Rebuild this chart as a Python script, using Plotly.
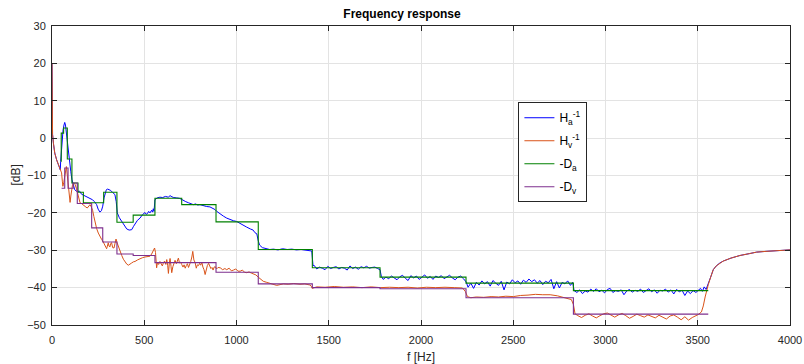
import plotly.graph_objects as go

# ---------------- data ----------------
# common low-frequency decay (all responses start here)
start_f = [0, 1, 3, 8, 15, 25, 35, 45]
start_db = [20.0, 8.0, 1.0, -1.5, -4.0, -5.8, -7.2, -8.5]

# common high-frequency tail
tail_f = [3570, 3584, 3600, 3620, 3638, 3680, 3729, 3780, 3819, 3870, 3920, 3960, 4000]
tail_db = [-37.2, -35.2, -34.2, -33.4, -32.9, -32.1, -31.4, -30.9, -30.5, -30.3, -30.1, -30.0, -29.9]

# H_a^-1 (blue)
ha_f = [47, 52, 55, 60, 65, 69, 73, 78, 83, 90, 96, 102, 108, 115, 123, 135, 150, 160, 175, 190,
        206, 220, 230, 242, 250, 260, 268, 275, 282, 287, 294, 300, 309, 318, 330, 341, 348, 354,
        365, 378, 390, 405, 418, 432, 442, 450, 463, 477, 490, 504, 511, 517, 524, 531, 540, 545,
        549, 553, 558, 570, 585, 600, 615, 630, 640, 650, 660, 676, 690, 703, 712, 725, 740, 755,
        766, 778, 790, 802, 820, 838, 856, 875, 883, 893, 910, 930, 947, 965, 983, 1001, 1020, 1038,
        1055, 1075, 1090, 1100, 1110, 1118, 1125, 1140, 1160, 1180, 1200, 1225, 1250, 1275, 1300,
        1325, 1350, 1375, 1395, 1408,
        1415, 1420, 1435, 1450, 1465, 1480, 1495, 1510, 1525, 1540, 1555, 1570, 1585, 1600, 1615,
        1630, 1645, 1660, 1675, 1690, 1705, 1720, 1735, 1750, 1765, 1778,
        1785, 1795, 1810, 1825, 1840, 1855, 1870, 1885, 1900, 1915, 1930, 1945, 1960, 1975, 1990,
        2005, 2020, 2035, 2050, 2065, 2080, 2095, 2110, 2125, 2140, 2155, 2170, 2185, 2200, 2215,
        2230, 2245, 2255, 2270, 2285, 2300, 2315, 2330, 2345, 2360, 2375, 2390, 2405, 2420, 2435,
        2450, 2465, 2480, 2495, 2510, 2525, 2540, 2555, 2570, 2585, 2600, 2615, 2630, 2645, 2660,
        2675, 2690, 2705, 2720, 2735, 2750, 2765, 2780, 2795, 2810, 2822, 2830, 2845, 2860, 2875,
        2890, 2905, 2920, 2935, 2950, 2965, 2980, 2995, 3010, 3025, 3040, 3055, 3070, 3085, 3100,
        3115, 3130, 3145, 3160, 3175, 3190, 3205, 3220, 3235, 3250, 3265, 3280, 3295, 3310, 3325,
        3340, 3355, 3370, 3385, 3400, 3415, 3430, 3445, 3460, 3475, 3490, 3505, 3515, 3525, 3535,
        3545, 3555]
ha_db = [-6.2, -2.5, -1.0, 2.2, 3.5, 4.2, 3.5, 1.0, -1.3, -4.0, -6.7, -9.0, -11.1, -12.5, -13.8,
         -14.3, -14.2, -15.0, -15.4, -15.9, -16.3, -16.5, -17.0, -17.8, -19.0, -19.8, -19.4, -18.2,
         -16.0, -14.7, -13.9, -13.6, -13.8, -14.0, -14.6, -15.1, -17.0, -20.0, -21.3, -22.3, -23.5,
         -24.3, -24.6, -24.5, -23.6, -22.9, -22.0, -21.4, -20.5, -19.9, -20.4, -20.2, -19.6, -20.0,
         -19.3, -19.8, -18.9, -19.6, -16.5, -16.0, -15.8, -15.9, -15.6, -15.8, -15.4, -15.7, -15.9,
         -16.0, -16.1, -16.4, -16.7, -17.0, -17.3, -17.5, -17.8, -17.6, -17.9, -17.8, -18.1, -18.3,
         -18.4, -18.9, -19.1, -19.6, -20.3, -20.9, -21.4, -21.8, -22.1, -22.3, -22.9, -23.3, -23.8,
         -24.3, -24.6, -25.3, -25.6, -27.5, -28.6, -29.3, -29.6, -29.8, -29.7, -29.9, -29.6, -29.8,
         -29.7, -29.9, -29.8, -30.0, -30.1, -30.2,
         -34.2, -34.0, -35.0, -34.5, -34.8, -35.2, -34.3, -34.9, -34.6, -34.4, -35.0, -34.6, -34.8,
         -35.3, -34.2, -34.9, -34.5, -35.1, -34.4, -34.7, -34.3, -34.8, -34.6, -34.5, -34.9, -35.2,
         -37.0, -37.8, -37.2, -37.6, -36.9, -37.4, -37.9, -37.1, -36.7, -37.5, -38.1, -36.8, -37.4,
         -36.9, -37.8, -37.2, -36.6, -37.5, -37.0, -37.8, -36.9, -37.3, -36.8, -37.6, -37.1, -36.7,
         -37.4, -37.9, -37.2, -36.9, -37.6, -38.5, -39.9, -38.8, -40.2, -38.6, -39.3, -38.2, -39.0,
         -38.4, -39.6, -38.1, -38.8, -39.4, -38.3, -40.6, -38.5, -39.0, -37.9, -38.7, -38.2, -39.1,
         -38.0, -38.6, -37.7, -38.4, -37.9, -38.8, -38.1, -39.2, -38.3, -38.7, -37.8, -40.3, -38.4,
         -40.1, -38.6, -39.0, -38.2, -39.4, -38.6, -40.8, -41.3, -40.6, -41.6, -40.9, -41.2, -40.4,
         -41.0, -40.3, -41.1, -40.7, -41.4, -40.5, -40.2, -41.3, -40.8, -41.0, -40.6, -41.9, -40.9,
         -40.5, -41.2, -40.7, -41.0, -40.4, -41.3, -40.8, -40.3, -41.1, -40.6, -41.5, -40.7, -40.9,
         -40.4, -41.2, -40.6, -41.7, -40.5, -41.1, -40.7, -42.1, -40.9, -41.6, -40.8, -41.3, -40.6,
         -40.2, -41.0, -39.8, -40.5, -39.3]

# H_v^-1 (orange)
hv_f = [52, 56, 59, 64, 69, 74, 78, 82, 87, 92, 98, 102, 105, 111, 117, 125, 132, 140, 146, 152,
        160, 170, 180, 191, 198, 206, 213, 220, 227, 233, 242, 251, 260, 269, 278, 287, 292, 296,
        300, 305, 309, 314, 318, 323, 329, 336, 341, 347, 352, 359, 368, 378, 387, 396, 405, 414,
        423, 432, 441, 450, 463, 477, 490, 504, 517, 531, 540, 549, 556, 561, 567, 572, 578, 585,
        592, 598, 603, 610, 617, 622, 627, 631, 636, 640, 645, 649, 655, 661, 667, 674, 680, 685,
        691, 697, 703, 710, 716, 722, 728, 734, 740, 746, 752, 758, 763, 769, 776, 782, 788, 794,
        800, 806, 812, 818, 824, 830, 836, 842, 849, 855, 861, 867, 873, 879, 885, 892, 900, 912,
        925, 937, 947, 960, 972, 984, 996, 1008, 1020, 1032, 1044, 1056, 1068, 1080, 1092, 1105,
        1118, 1130, 1145, 1164, 1185, 1205, 1218, 1236, 1254, 1280, 1310, 1344, 1370, 1398, 1405,
        1410, 1418, 1435, 1480, 1530, 1580, 1630, 1680, 1730, 1780, 1830, 1880, 1930, 1980, 2030,
        2080, 2130, 2180, 2225, 2240, 2252, 2270, 2300, 2340, 2380, 2420, 2460, 2500, 2540, 2580,
        2620, 2660, 2700, 2740, 2770, 2800, 2815, 2826, 2835, 2850, 2870, 2890, 2910, 2930, 2950,
        2970, 2990, 3010, 3030, 3050, 3070, 3090, 3110, 3130, 3150, 3170, 3190, 3210, 3230, 3250,
        3270, 3290, 3310, 3330, 3350, 3370, 3390, 3410, 3430, 3450, 3470, 3490, 3503, 3520, 3530,
        3540, 3548, 3557]
hv_db = [-9.3, -11.5, -12.9, -11.8, -10.7, -8.8, -7.6, -9.5, -12.0, -15.0, -17.2, -15.5, -13.8,
         -12.6, -12.0, -12.4, -13.4, -15.2, -16.8, -17.3, -17.5, -17.8, -18.3, -18.7, -18.2, -17.8,
         -18.4, -19.3, -21.0, -22.7, -24.2, -25.4, -26.4, -27.1, -27.8, -28.5, -29.2, -29.6, -28.6,
         -28.0, -28.9, -29.1, -28.2, -28.0, -29.3, -29.4, -28.3, -27.0, -27.9, -29.0, -30.2, -31.4,
         -32.4, -33.2, -33.7, -34.0, -33.8, -33.4, -33.1, -33.0, -32.6, -32.2, -32.0, -31.8, -31.7,
         -31.6, -31.0, -29.8, -29.4, -30.6, -34.7, -33.2, -33.8, -33.0, -33.9, -34.2, -33.5, -32.9,
         -33.8, -32.5, -34.0, -36.2, -33.4, -32.2, -34.3, -36.0, -34.4, -33.5, -32.7, -33.6, -32.8,
         -32.1, -33.4, -33.2, -33.8, -34.5, -33.9, -34.8, -34.1, -33.6, -34.6, -33.9, -33.0, -31.8,
         -30.3, -32.6, -33.3, -34.8, -33.9, -34.1, -33.5, -34.0, -33.2, -34.5, -35.2, -36.5, -35.0,
         -34.1, -33.5, -34.3, -34.9, -34.6, -35.3, -34.5, -34.4, -35.0, -34.6, -34.7, -35.2, -34.9,
         -35.2, -34.8, -35.5, -35.3, -35.0, -35.6, -35.6, -35.3, -35.9, -36.0, -35.8, -36.1, -36.3,
         -36.6, -37.2, -37.8, -38.3, -38.6, -38.9, -39.2, -39.4, -39.2, -39.0, -39.1, -38.9, -39.1,
         -39.0, -39.3, -39.6, -40.2, -40.0, -39.8, -39.9, -39.7, -39.9, -39.8, -40.0, -39.8, -40.0,
         -39.9, -40.0, -39.9, -40.1, -39.9, -40.0, -39.9, -40.0, -40.1, -41.0, -42.4, -42.7, -42.5,
         -42.6, -42.4, -42.5, -42.3, -42.4, -42.1, -42.0, -41.8, -41.9, -41.9, -42.2, -42.6, -43.0,
         -43.2, -44.5, -47.0, -47.5, -48.0, -47.4, -47.0, -47.6, -48.1, -47.5, -47.0, -46.8, -47.4,
         -47.9, -47.3, -46.9, -47.5, -48.2, -47.7, -47.1, -47.5, -47.9, -47.3, -47.6, -48.1, -47.4,
         -47.8, -48.4, -47.6, -47.3, -47.9, -48.6, -47.8, -48.7, -48.0, -47.6, -47.2, -46.5, -44.9,
         -42.5, -40.5, -39.2]

# -D_a (green staircase): step start frequencies and levels
da_f = [47, 50, 63, 83, 108, 141, 170, 280, 352, 440, 558, 703, 889, 1118, 1411, 1778, 2244, 2826, 3557]
da_db = [-6.2, 1.35, 2.7, -5.6, -12.0, -14.5, -17.3, -14.5, -22.5, -20.6, -16.1, -17.8, -22.4,
         -29.8, -34.7, -37.2, -38.8, -40.8, -40.8]

# -D_v (purple staircase)
dv_f = [52, 69, 87, 115, 137, 215, 275, 352, 440, 558, 889, 1118, 1411, 1778, 2244, 2826, 3557]
dv_db = [-13.4, -8.0, -13.4, -12.0, -17.5, -24.0, -27.8, -31.0, -31.4, -33.3, -35.9, -39.0,
         -40.0, -40.3, -42.7, -47.1, -47.1]

x_ticks = [0, 500, 1000, 1500, 2000, 2500, 3000, 3500, 4000]
y_ticks = [-50, -40, -30, -20, -10, 0, 10, 20, 30]

# ---------------- figure ----------------
FONT = "Liberation Sans, Arial, sans-serif"
AX = "#262626"

fig = go.Figure()
fig.add_trace(go.Scatter(x=start_f + ha_f + tail_f, y=start_db + ha_db + tail_db, mode="lines",
                         name="H<sub>a</sub><sup>-1</sup>", legendgroup="a",
                         line=dict(color="#0000FF", width=1)))
fig.add_trace(go.Scatter(x=start_f + hv_f + tail_f, y=start_db + hv_db + tail_db, mode="lines",
                         name="H<sub>v</sub><sup>-1</sup>", legendgroup="b",
                         line=dict(color="#D95319", width=1)))
fig.add_trace(go.Scatter(x=da_f, y=da_db, mode="lines", line_shape="hv",
                         name="-D<sub>a</sub>", legendgroup="c",
                         line=dict(color="#008000", width=1.1)))
fig.add_trace(go.Scatter(x=dv_f, y=dv_db, mode="lines", line_shape="hv",
                         name="-D<sub>v</sub>", legendgroup="d",
                         line=dict(color="#7E2F8E", width=1.1)))

axis_common = dict(showline=True, linecolor=AX, linewidth=1, mirror="ticks",
                   ticks="inside", ticklen=5, tickcolor=AX, showgrid=True,
                   gridcolor="#E3E3E3", gridwidth=1, zeroline=False, automargin=False,
                   tickfont=dict(family=FONT, size=11, color=AX))

fig.update_xaxes(range=[0, 4000], tickvals=x_ticks, ticklabelstandoff=5, **axis_common,
                 title=dict(text="f [Hz]", font=dict(family=FONT, size=12, color=AX)))
fig.update_yaxes(range=[-50, 30], tickvals=y_ticks, ticklabelstandoff=3, **axis_common)

fig.add_annotation(text="[dB]", xref="paper", yref="paper", x=0, y=0.5,
                   xanchor="center", yanchor="middle", xshift=-37, textangle=-90,
                   showarrow=False, font=dict(family=FONT, size=12, color=AX))

fig.update_layout(
    width=804, height=364,
    margin=dict(l=52, r=14, t=26, b=39),
    plot_bgcolor="white", paper_bgcolor="white",
    title=dict(text="<b>Frequency response</b>", x=0.5, xanchor="center",
               y=0.962, yanchor="middle", font=dict(family=FONT, size=12, color="black")),
    legend=dict(x=0.632, y=0.745, xanchor="left", yanchor="top",
                bgcolor="white", bordercolor=AX, borderwidth=1,
                font=dict(family=FONT, size=12, color="black"),
                itemwidth=30, tracegroupgap=4),
    showlegend=True,
)

fig.write_html("out.html")
